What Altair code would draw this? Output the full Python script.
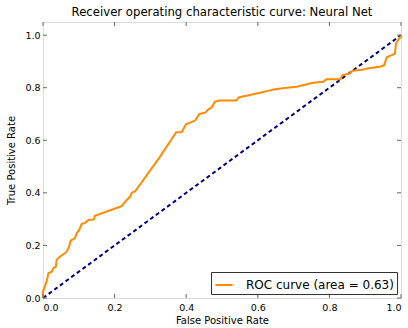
import altair as alt
import pandas as pd

fpr = [0.0, 0.0, 0.010, 0.015, 0.024, 0.030, 0.036, 0.038, 0.047, 0.061, 0.066, 0.073,
       0.077, 0.089, 0.094, 0.101, 0.108, 0.117, 0.127, 0.142, 0.145, 0.215, 0.220,
       0.234, 0.243, 0.248, 0.257, 0.327, 0.372, 0.387, 0.400, 0.411, 0.425, 0.437,
       0.453, 0.462, 0.471, 0.480, 0.494, 0.539, 0.548, 0.578, 0.606, 0.625, 0.648,
       0.681, 0.709, 0.737, 0.755, 0.783, 0.792, 0.830, 0.837, 0.858, 0.865, 0.886,
       0.909, 0.941, 0.953, 0.960, 0.974, 0.983, 0.986, 0.992, 0.999, 1.0]
tpr = [0.0, 0.024, 0.062, 0.094, 0.100, 0.115, 0.119, 0.145, 0.157, 0.170, 0.176, 0.195,
       0.218, 0.227, 0.246, 0.259, 0.281, 0.286, 0.297, 0.299, 0.313, 0.347, 0.350,
       0.373, 0.385, 0.400, 0.405, 0.538, 0.631, 0.631, 0.662, 0.667, 0.675, 0.700,
       0.705, 0.718, 0.725, 0.747, 0.751, 0.751, 0.764, 0.772, 0.781, 0.787, 0.794,
       0.800, 0.804, 0.813, 0.819, 0.823, 0.832, 0.832, 0.848, 0.855, 0.865, 0.867,
       0.874, 0.880, 0.886, 0.916, 0.924, 0.930, 0.969, 0.981, 0.994, 1.0]
diag = [0.0, 1.0]
tick_values = [0.0, 0.2, 0.4, 0.6, 0.8, 1.0]
series_label = "ROC curve (area = 0.63)"
title_text = "Receiver operating characteristic curve: Neural Net"

W, H = 358, 276
FONT = "DejaVu Sans"
FRAME = "#666666"

roc = pd.DataFrame({"fpr": fpr, "tpr": tpr, "i": range(len(fpr)), "s": series_label})
dg = pd.DataFrame({"fpr": diag, "tpr": diag})
ticks = pd.DataFrame({"v": tick_values})

xs = alt.Scale(domain=[0, 1], nice=False, zero=False)
ys = alt.Scale(domain=[0, 1.05], nice=False, zero=False)

x_axis = alt.Axis(values=tick_values, format=".1f", grid=False, domain=False, ticks=False,
                  labelPadding=4, labelFontSize=9.5, labelFont=FONT, labelColor="#000",
                  title="False Positive Rate", titleFont=FONT, titleFontSize=10,
                  titleFontWeight="normal", titleColor="#000", titlePadding=4)
y_axis = alt.Axis(values=tick_values, format=".1f", grid=False, domain=False, ticks=False,
                  labelPadding=3, labelFontSize=9.5, labelFont=FONT, labelColor="#000",
                  title="True Positive Rate", titleFont=FONT, titleFontSize=10,
                  titleFontWeight="normal", titleColor="#000", titlePadding=8)

line = alt.Chart(roc).mark_line(strokeWidth=2, interpolate="linear").encode(
    x=alt.X("fpr:Q", scale=xs, axis=x_axis),
    y=alt.Y("tpr:Q", scale=ys, axis=y_axis),
    order="i:Q",
    color=alt.Color("s:N", scale=alt.Scale(range=["#ff8c00"]),
                    legend=alt.Legend(title=None, orient="bottom-right", offset=4,
                                      symbolType="stroke", symbolStrokeWidth=2,
                                      symbolSize=300, labelFontSize=12, labelFont=FONT,
                                      labelColor="#000",
                                      strokeColor="#333", fillColor="#fff", padding=3,
                                      cornerRadius=0, labelOffset=12)),
)

diag_line = alt.Chart(dg).mark_line(strokeWidth=2, color="#000080", strokeDash=[4, 3]).encode(
    x=alt.X("fpr:Q", scale=xs), y=alt.Y("tpr:Q", scale=ys)
)

tk = dict(color=FRAME, strokeWidth=1)
xb = alt.Chart(ticks).mark_rule(**tk).encode(x=alt.X("v:Q", scale=xs), y=alt.value(H), y2=alt.value(H - 4))
xt = alt.Chart(ticks).mark_rule(**tk).encode(x=alt.X("v:Q", scale=xs), y=alt.value(0), y2=alt.value(4))
yl = alt.Chart(ticks).mark_rule(**tk).encode(y=alt.Y("v:Q", scale=ys), x=alt.value(0), x2=alt.value(4))
yr = alt.Chart(ticks).mark_rule(**tk).encode(y=alt.Y("v:Q", scale=ys), x=alt.value(W), x2=alt.value(W - 4))

chart = alt.layer(diag_line, line, xb, xt, yl, yr).properties(
    width=W, height=H,
    title=alt.TitleParams(title_text, font=FONT, fontSize=11.7, fontWeight="normal",
                          color="#000", offset=3, anchor="middle"),
    autosize=alt.AutoSizeParams(type="none"),
    padding={"left": 43, "top": 22, "right": 7, "bottom": 30},
).configure_view(stroke=FRAME, strokeWidth=1.5).configure(background="#fff")

chart.save("out.html", embed_options={"renderer": "svg", "actions": False})
